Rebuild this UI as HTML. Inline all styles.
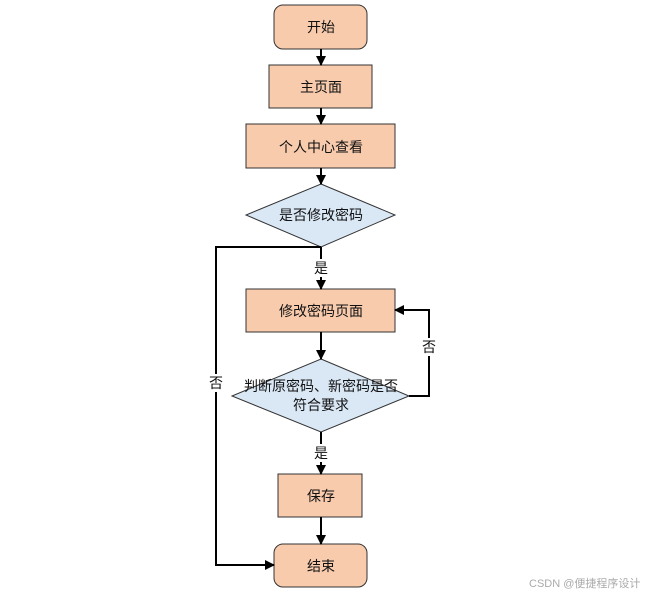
<!DOCTYPE html>
<html><head><meta charset="utf-8"><style>body{margin:0;background:#fff}</style></head><body>
<svg width="649" height="595" xmlns="http://www.w3.org/2000/svg" font-family="'Liberation Sans','Noto Sans CJK SC',sans-serif" font-size="14">
<defs><marker id="a" markerWidth="10" markerHeight="10" refX="9" refY="5" orient="auto" markerUnits="userSpaceOnUse"><path d="M0,0 L10,5 L0,10Z" fill="#000"/></marker></defs>
<g fill="#f8cbad" stroke="#333" stroke-width="1">
<rect x="274" y="5" width="93" height="44" rx="9"/>
<rect x="269" y="65" width="103" height="43"/>
<rect x="246" y="124" width="149" height="44"/>
<rect x="246" y="289" width="149" height="43"/>
<rect x="278" y="474" width="84" height="43"/>
<rect x="274" y="544" width="93" height="43" rx="9"/>
</g>
<g fill="#dae8f6" stroke="#333">
<polygon points="321,184 395,215 321,247 246,215"/>
<polygon points="321,359 409,396 321,432 232,396"/>
</g>
<g stroke="#000" stroke-width="2" fill="none" marker-end="url(#a)">
<line x1="321" y1="49" x2="321" y2="65"/>
<line x1="321" y1="108" x2="321" y2="124"/>
<line x1="321" y1="168" x2="321" y2="184"/>
<line x1="321" y1="247" x2="321" y2="289"/>
<line x1="321" y1="332" x2="321" y2="359"/>
<line x1="321" y1="432" x2="321" y2="474"/>
<line x1="321" y1="517" x2="321" y2="544"/>
<polyline points="321,247 216,247 216,565 274,565"/>
<polyline points="409,396 429,396 429,310 395,310"/>
</g>
<g text-anchor="middle" fill="#111">
<text x="321" y="32">开始</text>
<text x="321" y="92">主页面</text>
<text x="321" y="152">个人中心查看</text>
<text x="321" y="220">是否修改密码</text>
<text x="321" y="316">修改密码页面</text>
<text x="321" y="391">判断原密码、新密码是否</text>
<text x="321" y="410">符合要求</text>
<text x="321" y="501">保存</text>
<text x="321" y="571">结束</text>
<rect x="312" y="259" width="18" height="18" fill="#fff"/>
<text x="321" y="273">是</text>
<rect x="312" y="444" width="18" height="18" fill="#fff"/>
<text x="321" y="458">是</text>
<rect x="420" y="338" width="18" height="18" fill="#fff"/>
<text x="429" y="352">否</text>
<rect x="207" y="374" width="18" height="18" fill="#fff"/>
<text x="216" y="388">否</text>
</g>
<text x="529" y="587" font-size="11" fill="#aaa">CSDN @便捷程序设计</text>
</svg>
</body></html>
